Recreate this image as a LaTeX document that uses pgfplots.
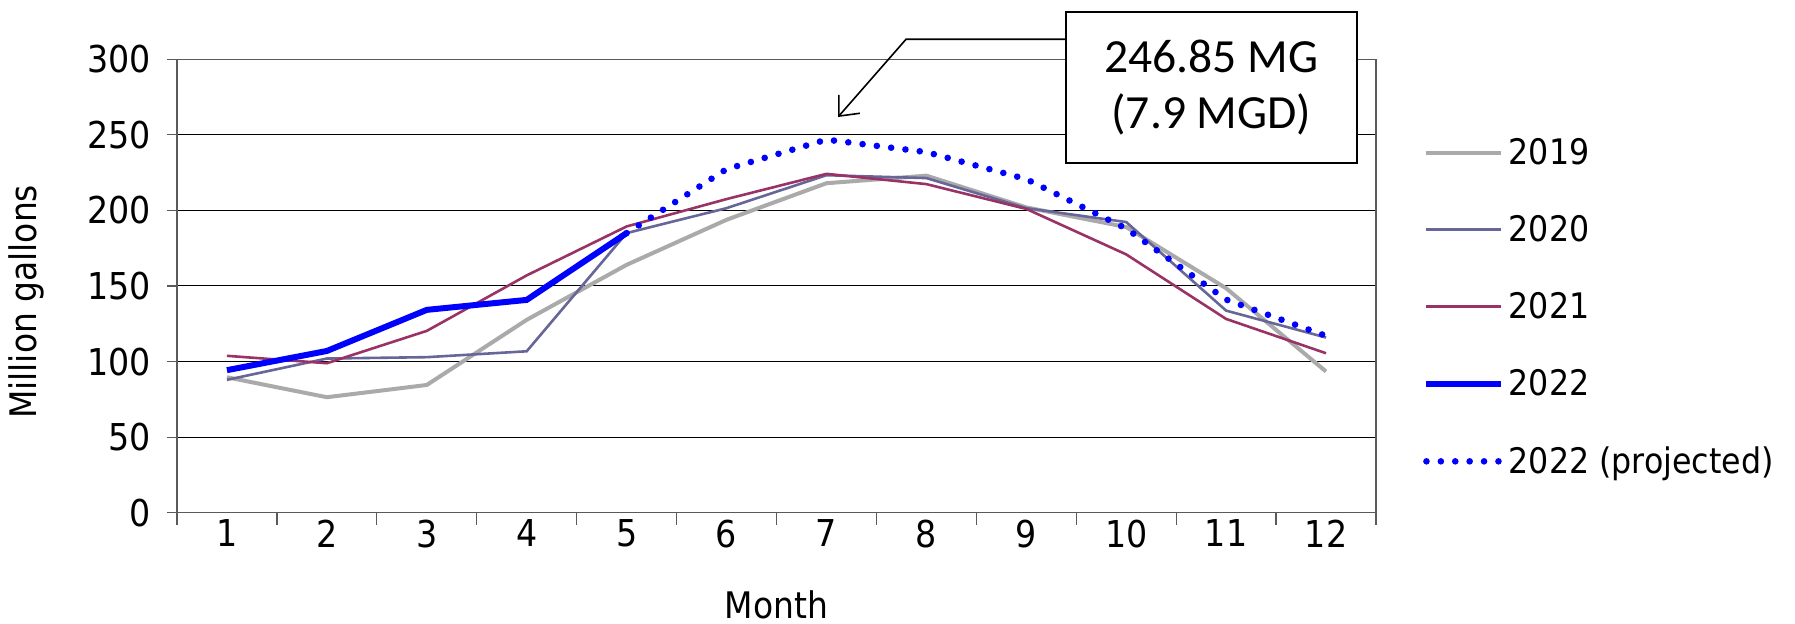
\documentclass[border=0pt]{standalone}
\usepackage{pgfplots}
\pgfplotsset{compat=1.18}
\usepackage{fontspec}
\setmainfont{DejaVu Sans Condensed}
\newfontfamily\boxfont{Carlito}
\usetikzlibrary{arrows.meta}

\definecolor{c2019}{RGB}{170,170,170}
\definecolor{c2020}{RGB}{102,102,153}
\definecolor{c2021}{RGB}{153,51,102}
\definecolor{c2022}{RGB}{0,0,255}
\definecolor{axisgray}{RGB}{90,90,90}

\begin{document}
\begin{tikzpicture}
\useasboundingbox (-88.5pt,-55.65pt) rectangle (809pt,256.35pt);
\begin{axis}[
  width=599.5pt, height=226.7pt, scale only axis,
  xmin=0.5, xmax=12.5, ymin=0, ymax=300,
  xtick={1,...,12}, minor xtick={0.5,1.5,...,12.5},
  ytick={0,50,...,300},
  tick pos=left,
  tick align=outside, major tick length=5pt, minor tick length=6pt,
  every major x tick/.append style={draw=none},
  tick style={axisgray, line width=0.6pt},
  axis line style={axisgray, line width=0.7pt},
  ymajorgrids, major grid style={black, line width=0.5pt},
  /pgf/number format/assume math mode=true,
  tick label style={font=\fontsize{18.5}{22}\selectfont},
  xticklabel style={yshift=5pt},
  yticklabel style={xshift=-4.5pt},
  label style={font=\fontsize{18.3}{22}\selectfont},
  xlabel={Month}, ylabel={Million gallons},
  xlabel style={at={(axis description cs:0.5,-0.203)}, anchor=center, inner sep=0pt},
  ylabel style={at={(axis description cs:-0.126,0.465)}, anchor=center, inner sep=0pt},
  legend style={at={(axis description cs:1.034,0.845)}, anchor=north west,
    draw=none, fill=none, font=\fontsize{17.6}{21}\selectfont, row sep=20pt},
  legend cell align=left,
  legend image code/.code={\draw[#1] (0pt,0pt) -- (37.5pt,0pt);},
  clip=false,
]
\addplot[c2019, line width=2pt] coordinates {
  (1,89.6) (2,76.4) (3,84.5) (4,127.6) (5,164) (6,193.8)
  (7,218) (8,223) (9,202) (10,189) (11,148.5) (12,93.4)};
\addlegendentry{2019}
\addplot[c2020, line width=1.3pt] coordinates {
  (1,87.9) (2,102) (3,102.9) (4,106.8) (5,185) (6,201.5)
  (7,223.3) (8,221.4) (9,201.5) (10,192.3) (11,133.7) (12,115.9)};
\addlegendentry{2020}
\addplot[c2021, line width=1.3pt] coordinates {
  (1,103.8) (2,98.9) (3,120.3) (4,157) (5,189.4) (6,207.5)
  (7,224.2) (8,217.4) (9,201) (10,170.9) (11,128.2) (12,105.5)};
\addlegendentry{2021}
\addplot[c2022, line width=3pt] coordinates {
  (1,94.3) (2,107) (3,134.2) (4,140.8) (5,185)};
\addlegendentry{2022}
\addplot[c2022, line width=3.3pt, line cap=round, dash pattern=on 0pt off 7.2pt] coordinates {
  (5,185) (6,227.3) (7,246.85) (8,238.6) (9,220.7) (10,188) (11,141) (12,117)};
\addlegendentry{2022 (projected)}

\draw[black, line width=0.8pt, -{Straight Barb[length=8pt, width=14pt]}]
  (axis description cs:0.7414,1.0441) -- (axis description cs:0.608,1.0441)
  -- (axis description cs:0.5513,0.8727);
\node[draw=black, line width=1pt, fill=white, minimum width=145.5pt,
  minimum height=75.5pt, align=center, inner sep=0pt,
  font=\boxfont\fontsize{23.8}{28}\selectfont]
  at (axis description cs:0.8628,0.938) {246.85 MG\\(7.9 MGD)};
\end{axis}
\end{tikzpicture}
\end{document}
